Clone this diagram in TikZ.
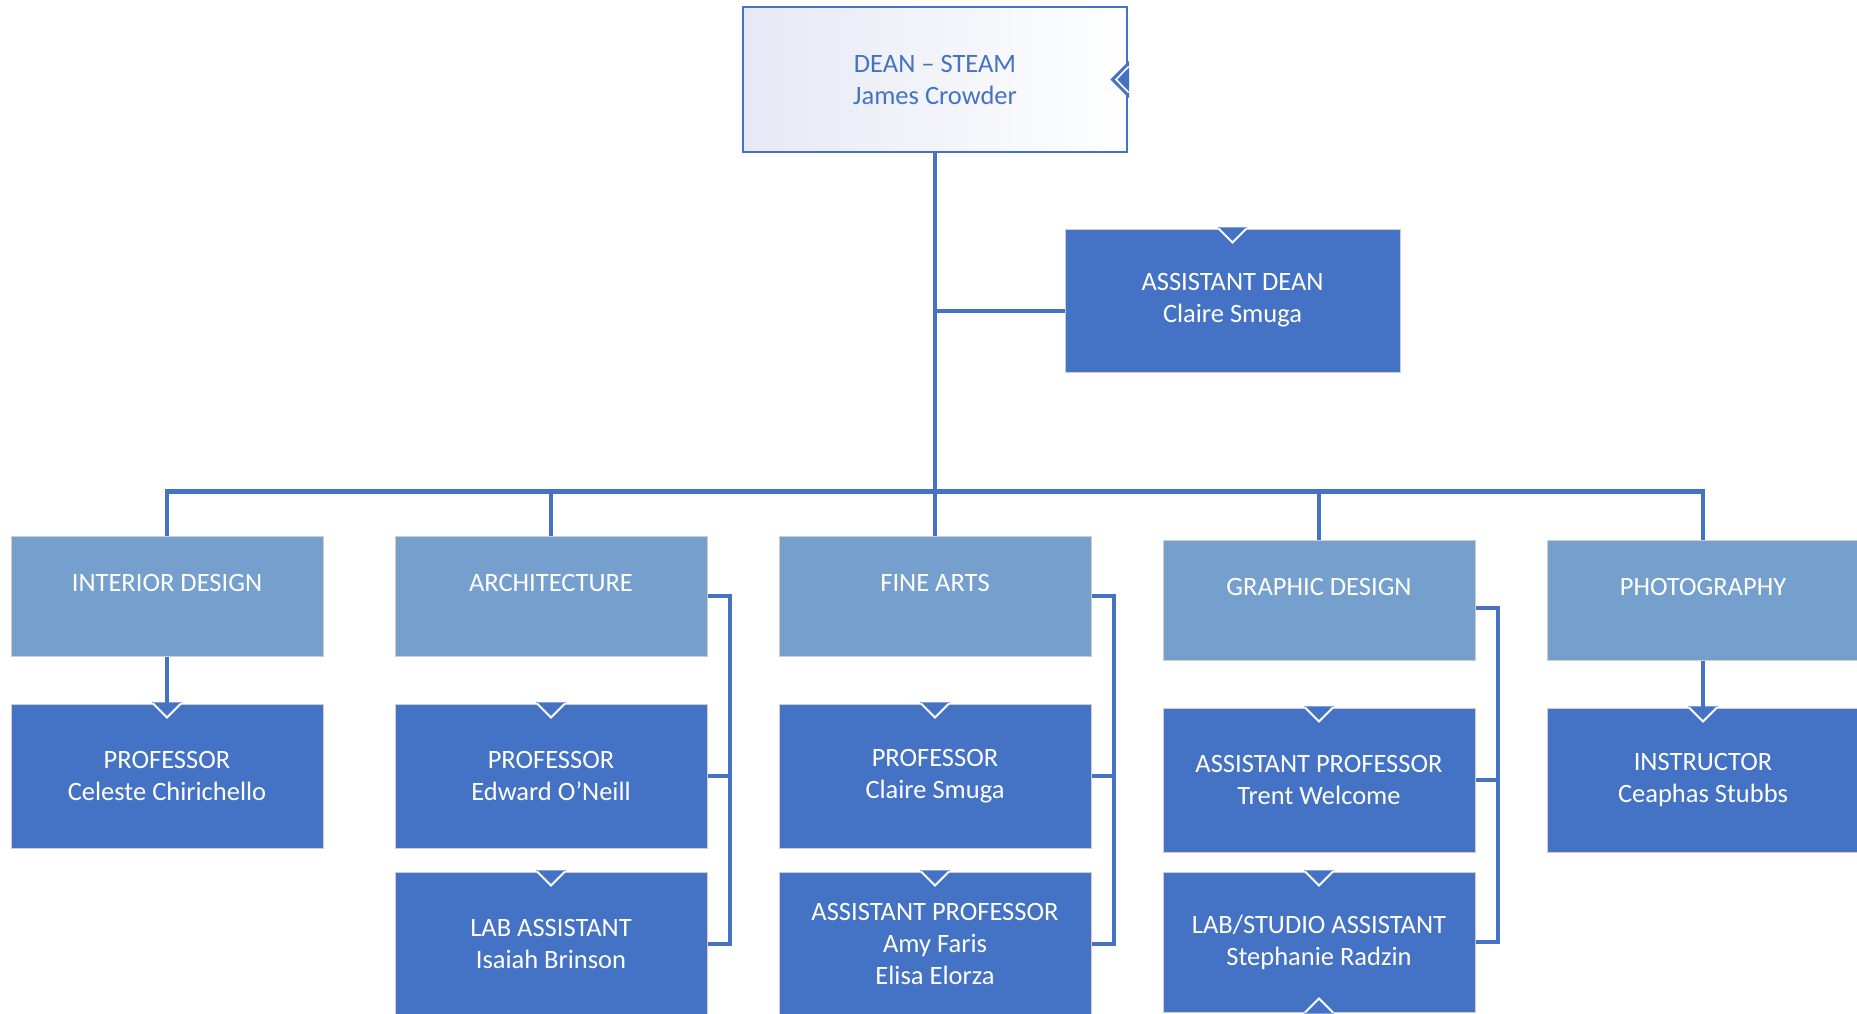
\documentclass[tikz,border=0pt]{standalone}
\usepackage{fontspec}
\setmainfont{Carlito}
\definecolor{cdark}{RGB}{68,114,196}
\definecolor{clight}{RGB}{117,160,205}
\definecolor{cbord}{RGB}{205,205,205}
\definecolor{clav}{RGB}{230,233,245}
\newcommand\notchN[1]{%
  \fill[cdark] ([xshift=-7.5pt,yshift=0.6pt]#1.north) -- ([yshift=-7.5pt]#1.north) -- ([xshift=7.5pt,yshift=0.6pt]#1.north) -- cycle;
  \draw[white, line width=1pt] ([xshift=-7pt]#1.north) -- ([yshift=-7pt]#1.north) -- ([xshift=7pt]#1.north);}
\begin{document}
\begin{tikzpicture}[x=0.5pt,y=-0.5pt,
  every node/.style={font=\fontsize{13.25}{16}\selectfont, align=center, inner sep=0pt},
  dept/.style={rectangle, fill=clight, draw=cbord, line width=0.5pt, minimum width=156pt, minimum height=60pt, text=white},
  staff/.style={rectangle, fill=cdark, draw=cbord, line width=0.5pt, minimum width=156pt, minimum height=72pt, text=white},
  conn/.style={draw=cdark, line width=2.25pt},
]
\useasboundingbox (0,0) rectangle (1857,1013);
\clip (0,0) rectangle (1857,1013);
\fill[white] (0,0) rectangle (1857,1013);
% top
\node[rectangle, draw=cdark, line width=1pt, left color=clav, right color=white, text=cdark,
      minimum width=192pt, minimum height=72.5pt] (Dean) at (935,79.5) {DEAN – STEAM\\James Crowder};
\node[staff, minimum width=167.5pt, minimum height=71.5pt] (AsstDean) at (1232.5,300.5) {ASSISTANT DEAN\\Claire Smuga};
% departments
\node[dept] (ID)   at (167,596)  {INTERIOR DESIGN\\[-8pt]\strut};
\node[dept] (Arch) at (551,596)  {ARCHITECTURE\\[-8pt]\strut};
\node[dept] (FA)   at (935,596)  {FINE ARTS\\[-8pt]\strut};
\node[dept] (GD)   at (1319,600) {GRAPHIC DESIGN\\[-8pt]\strut};
\node[dept] (Ph)   at (1703,600) {PHOTOGRAPHY\\[-8pt]\strut};
% staff
\node[staff] (IDp) at (167,776)  {PROFESSOR\\Celeste Chirichello};
\node[staff] (Ap)  at (551,776)  {PROFESSOR\\Edward O’Neill};
\node[staff] (Al)  at (551,944)  {LAB ASSISTANT\\Isaiah Brinson};
\node[staff] (FAp) at (935,776)  {PROFESSOR\\Claire Smuga};
\node[staff] (FAa) at (935,944)  {ASSISTANT PROFESSOR\\Amy Faris\\Elisa Elorza};
\node[staff] (GDp) at (1319,780) {ASSISTANT PROFESSOR\\Trent Welcome};
\node[staff, minimum height=70pt] (GDl) at (1319,942) {LAB/STUDIO ASSISTANT\\Stephanie Radzin};
\node[staff] (Phi) at (1703,780) {INSTRUCTOR\\Ceaphas Stubbs};
% coordinates
\coordinate (jA) at (935,311);
\coordinate (bus) at (935,491.5);
\coordinate (aB) at (730,0);
\coordinate (fB) at (1114,0);
\coordinate (gB) at (1498,0);
% connectors
\draw[conn] (Dean.south) -- (FA.north);
\draw[conn] (jA) -- (jA -| AsstDean.west);
\draw[conn] (ID.north) |- (bus) -| (Ph.north);
\draw[conn] (Arch.north) -- (Arch.north |- bus);
\draw[conn] (GD.north) -- (GD.north |- bus);
\draw[conn] (ID.south) -- (IDp.north);
\draw[conn] (Ph.south) -- (Phi.north);
\draw[conn] (Arch.east) -| (aB |- Al.east) -- (Al.east);
\draw[conn] (Ap.east) -- (aB |- Ap.east);
\draw[conn] (FA.east) -| (fB |- FAa.east) -- (FAa.east);
\draw[conn] (FAp.east) -- (fB |- FAp.east);
\draw[conn] ([yshift=-4pt]GD.east) -| (gB |- GDl.east) -- (GDl.east);
\draw[conn] (GDp.east) -- (gB |- GDp.east);
% notches
\notchN{AsstDean}
\notchN{IDp}
\notchN{Ap}
\notchN{Al}
\notchN{FAp}
\notchN{FAa}
\notchN{GDp}
\notchN{GDl}
\notchN{Phi}
\fill[cdark] ([xshift=-7.5pt,yshift=-0.6pt]GDl.south) -- ([yshift=7.5pt]GDl.south) -- ([xshift=7.5pt,yshift=-0.6pt]GDl.south) -- cycle;
\draw[white, line width=1pt] ([xshift=-7pt]GDl.south) -- ([yshift=7pt]GDl.south) -- ([xshift=7pt]GDl.south);
\filldraw[fill=cdark, draw=cdark, line width=1.2pt] ([yshift=8pt]Dean.east) -- ([xshift=-8pt]Dean.east) -- ([yshift=-8pt]Dean.east) -- cycle;
\draw[white, line width=0.8pt] ([yshift=6.5pt,xshift=0.3pt]Dean.east) -- ([xshift=-6pt]Dean.east) -- ([yshift=-6.5pt,xshift=0.3pt]Dean.east);
\end{tikzpicture}
\end{document}
